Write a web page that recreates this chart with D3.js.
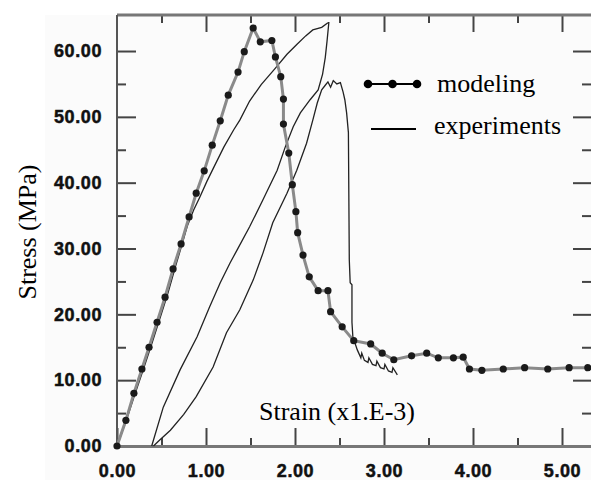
<!DOCTYPE html>
<html>
<head>
<meta charset="utf-8">
<script src="https://cdn.jsdelivr.net/npm/d3@7"></script>
<style>
  html, body { margin: 0; padding: 0; background: #fff; }
  svg { display: block; }
</style>
</head>
<body>
<svg id="chart" width="591" height="480"></svg>
<script>
// Strain (x1.E-3) vs stress (MPa)
const xMajorTicks = [0, 1, 2, 3, 4, 5];
const xMinorTicks = [0.5, 1.5, 2.5, 3.5, 4.5];
const yMajorTicks = [0, 10, 20, 30, 40, 50, 60];
const yMinorTicks = [5, 15, 25, 35, 45, 55];

// numerical model, one marker per point
const modeling = [
  [0, 0], [0.10, 3.9], [0.19, 8.0], [0.28, 11.7], [0.36, 15.0], [0.45, 18.8],
  [0.54, 22.6], [0.63, 26.9], [0.72, 30.7], [0.81, 34.8], [0.89, 38.4],
  [0.98, 41.8], [1.07, 45.7], [1.16, 49.4], [1.25, 53.3], [1.36, 56.8],
  [1.43, 59.9], [1.53, 63.5], [1.61, 61.4], [1.74, 61.6], [1.78, 59.1],
  [1.84, 56.1], [1.87, 52.7], [1.87, 48.9], [1.93, 44.5], [1.97, 39.7],
  [2.01, 35.6], [2.03, 32.4], [2.09, 29.0], [2.16, 25.7], [2.26, 23.6],
  [2.37, 23.6], [2.40, 20.4], [2.53, 18.1], [2.66, 16.0], [2.85, 15.5],
  [2.98, 14.1], [3.11, 13.1], [3.31, 13.7], [3.48, 14.1], [3.61, 13.4],
  [3.78, 13.4], [3.89, 13.5], [3.96, 11.7], [4.10, 11.5], [4.34, 11.7],
  [4.58, 11.9], [4.84, 11.7], [5.08, 11.9], [5.29, 11.9]
];

// test: first loading up to the first peak
const expLoading = [
  [0, 0], [0.10, 3.7], [0.20, 7.8], [0.30, 11.8], [0.39, 15.5], [0.48, 19.3],
  [0.57, 23.1], [0.66, 27.4], [0.73, 30.6], [0.79, 33.4], [0.86, 35.8],
  [0.93, 37.8], [1.01, 40.2], [1.09, 42.4], [1.20, 45.4], [1.31, 48.0],
  [1.38, 49.5], [1.49, 52.4], [1.62, 54.9], [1.78, 57.4], [1.91, 59.5],
  [2.02, 61.0], [2.12, 62.3], [2.20, 63.2], [2.30, 63.6], [2.37, 64.3]
];

// test: unloading from the first peak
const expUnloading = [
  [2.37, 64.3], [2.38, 64.3], [2.36, 61.5], [2.34, 59.0], [2.31, 56.5],
  [2.26, 54.1], [2.17, 52.6], [2.06, 50.6], [1.98, 48.5], [1.89, 45.4],
  [1.80, 41.9], [1.64, 37.4], [1.49, 33.3], [1.35, 29.8], [1.27, 27.8],
  [1.16, 24.8], [1.04, 21.1], [0.90, 16.6], [0.71, 11.6], [0.52, 5.9],
  [0.39, 0]
];

// test: reloading, second peak, failure and residual branch
const expReloading = [
  [0.41, 0], [0.48, 0.9], [0.60, 2.4], [0.75, 4.8], [0.89, 7.5], [1.08, 12.0],
  [1.23, 17.2], [1.38, 20.7], [1.53, 25.2], [1.64, 29.3], [1.75, 33.9],
  [1.91, 38.4], [2.02, 41.9], [2.13, 46.0], [2.20, 49.5], [2.25, 52.1],
  [2.30, 54.1], [2.34, 54.8], [2.37, 55.3], [2.40, 54.5], [2.43, 55.5],
  [2.47, 55.0], [2.51, 55.2], [2.54, 53.8], [2.56, 52.6], [2.58, 50.6],
  [2.60, 47.6], [2.61, 28.3], [2.62, 24.8], [2.64, 24.5], [2.64, 18.8],
  [2.65, 16.6], [2.70, 14.6], [2.74, 13.4], [2.75, 14.1], [2.78, 13.0],
  [2.82, 12.7], [2.83, 13.4], [2.87, 12.4], [2.91, 12.2], [2.92, 12.9],
  [2.96, 11.9], [3.00, 11.7], [3.01, 12.4], [3.05, 11.4], [3.09, 11.2],
  [3.10, 11.9], [3.15, 10.8]
];

const svg = d3.select("#chart");
const W = 591, H = 480;
const plotLeft = 117, plotRight = 591, plotTop = 15, plotBottom = 446;

const x = d3.scaleLinear().domain([0, (plotRight - plotLeft) / 89]).range([plotLeft, plotRight]);
const y = d3.scaleLinear().domain([0, (plotBottom - plotTop) / 6.583]).range([plotBottom, plotTop]);

// faint paper tone behind the plot
svg.append("rect").attr("x", 45).attr("y", 15).attr("width", W - 45).attr("height", H - 15)
  .attr("fill", "#fbfbfb");

const tickColor = "#444";
const labelFont = "'Liberation Sans', Arial, sans-serif";
const serif = "'Liberation Serif', 'Times New Roman', serif";

function styleAxis(g) {
  g.select(".domain").remove();
  g.selectAll(".tick line").attr("stroke", tickColor).attr("stroke-width", 2);
  g.selectAll(".tick text")
    .attr("fill", "#111")
    .attr("stroke", "#111")
    .attr("stroke-width", 0.5)
    .attr("font-family", labelFont)
    .attr("font-weight", "bold")
    .attr("font-size", 18)
    .attr("letter-spacing", 0.6);
}

// bottom axis: labelled majors, short minors, all pointing inward
svg.append("g").attr("transform", `translate(0,${plotBottom})`)
  .call(d3.axisBottom(x).tickValues(xMajorTicks).tickFormat(d3.format(".2f"))
    .tickSizeInner(-18).tickSizeOuter(0).tickPadding(18))
  .call(styleAxis);
svg.append("g").attr("transform", `translate(0,${plotBottom})`)
  .call(d3.axisBottom(x).tickValues(xMinorTicks).tickFormat("").tickSizeInner(-8).tickSizeOuter(0))
  .call(styleAxis);

// top axis ticks
svg.append("g").attr("transform", `translate(0,${plotTop})`)
  .call(d3.axisTop(x).tickValues(xMajorTicks.filter(d => d > 0)).tickFormat("").tickSizeInner(-17).tickSizeOuter(0))
  .call(styleAxis);
svg.append("g").attr("transform", `translate(0,${plotTop})`)
  .call(d3.axisTop(x).tickValues(xMinorTicks).tickFormat("").tickSizeInner(-8).tickSizeOuter(0))
  .call(styleAxis);

// left axis
svg.append("g").attr("transform", `translate(${plotLeft},0)`)
  .call(d3.axisLeft(y).tickValues(yMajorTicks).tickFormat(d3.format(".2f"))
    .tickSizeInner(-19).tickSizeOuter(0).tickPadding(15))
  .call(styleAxis);
svg.append("g").attr("transform", `translate(${plotLeft},0)`)
  .call(d3.axisLeft(y).tickValues(yMinorTicks).tickFormat("").tickSizeInner(-9).tickSizeOuter(0))
  .call(styleAxis);

// right axis ticks
svg.append("g").attr("transform", `translate(${plotRight},0)`)
  .call(d3.axisRight(y).tickValues(yMajorTicks.filter(d => d > 0)).tickFormat("").tickSizeInner(-18).tickSizeOuter(0))
  .call(styleAxis);
svg.append("g").attr("transform", `translate(${plotRight},0)`)
  .call(d3.axisRight(y).tickValues(yMinorTicks).tickFormat("").tickSizeInner(-9).tickSizeOuter(0))
  .call(styleAxis);

// frame lines
svg.append("line").attr("x1", plotLeft).attr("x2", plotRight).attr("y1", plotTop).attr("y2", plotTop)
  .attr("stroke", "#777").attr("stroke-width", 3);
svg.append("line").attr("x1", plotLeft).attr("x2", plotRight).attr("y1", plotBottom + 0.5).attr("y2", plotBottom + 0.5)
  .attr("stroke", "#777").attr("stroke-width", 3);
svg.append("line").attr("x1", plotLeft).attr("x2", plotLeft).attr("y1", plotTop).attr("y2", plotBottom)
  .attr("stroke", "#555").attr("stroke-width", 2);

const line = d3.line().x(d => x(d[0])).y(d => y(d[1]));

// experimental curves
[expLoading, expUnloading, expReloading].forEach(series => {
  svg.append("path").datum(series).attr("d", line)
    .attr("fill", "none").attr("stroke", "#222").attr("stroke-width", 1.3)
    .attr("stroke-linejoin", "miter");
});

// model curve with markers
svg.append("path").datum(modeling).attr("d", line)
  .attr("fill", "none").attr("stroke", "#8a8a8a").attr("stroke-width", 3);
svg.append("g").selectAll("circle").data(modeling).join("circle")
  .attr("cx", d => x(d[0])).attr("cy", d => y(d[1])).attr("r", 3.6)
  .attr("fill", "#1a1a1a");

// axis titles
svg.append("text").attr("x", 259).attr("y", 420)
  .attr("font-family", serif).attr("font-size", 26).attr("fill", "#000")
  .text("Strain (x1.E-3)");
svg.append("text").attr("transform", "translate(36,232) rotate(-90)")
  .attr("text-anchor", "middle")
  .attr("font-family", serif).attr("font-size", 26).attr("fill", "#000")
  .text("Stress (MPa)");

// legend
const legend = svg.append("g");
legend.append("line").attr("x1", 368).attr("x2", 417).attr("y1", 84).attr("y2", 84)
  .attr("stroke", "#000").attr("stroke-width", 2);
legend.selectAll("circle").data([368, 392.5, 417]).join("circle")
  .attr("cx", d => d).attr("cy", 84).attr("r", 4.3).attr("fill", "#000");
legend.append("text").attr("x", 437).attr("y", 92)
  .attr("font-family", serif).attr("font-size", 26).attr("fill", "#000").text("modeling");
legend.append("line").attr("x1", 371).attr("x2", 416).attr("y1", 129).attr("y2", 129)
  .attr("stroke", "#000").attr("stroke-width", 2);
legend.append("text").attr("x", 434).attr("y", 134)
  .attr("font-family", serif).attr("font-size", 26).attr("fill", "#000").text("experiments");
</script>
</body>
</html>
